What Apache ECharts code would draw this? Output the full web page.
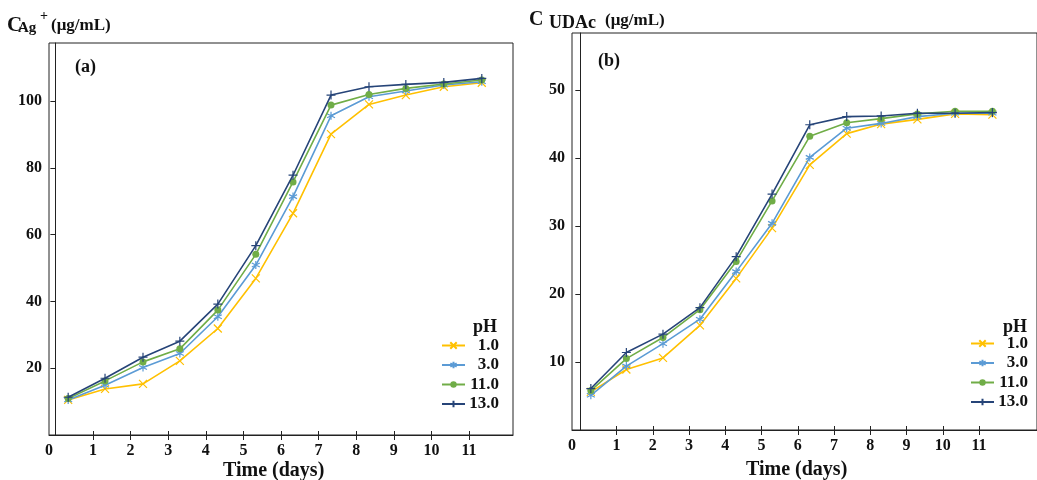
<!DOCTYPE html>
<html>
<head>
<meta charset="utf-8">
<script src="https://cdn.jsdelivr.net/npm/echarts@6/dist/echarts.min.js"></script>
<style>
  html, body { margin: 0; padding: 0; background: #fff; }
  #main { width: 1037px; height: 480px; }
</style>
</head>
<body>
<div id="main"></div>
<script>
// series names (pH)
const phNames = ['1.0', '3.0', '11.0', '13.0'];
const colors = ['#FFC000', '#5B9BD5', '#70AD47', '#264478'];

// sampling times (days)
const daysA = [0.34, 1.32, 2.33, 3.31, 4.32, 5.33, 6.32, 7.33, 8.34, 9.32, 10.33, 11.34];
const daysB = [0.29, 1.27, 2.28, 3.3, 4.3, 5.29, 6.33, 7.35, 8.3, 9.3, 10.34, 11.37];

// (a) C Ag+ (ug/mL)
const agPH1  = [10.5, 13.8, 15.3, 22.2, 31.9, 46.9, 66.4, 90.1, 99.0, 101.8, 104.3, 105.5];
const agPH3  = [10.5, 14.9, 20.2, 24.4, 35.4, 50.9, 71.4, 95.6, 101.3, 103.0, 104.8, 105.8];
const agPH11 = [10.9, 16.2, 21.9, 25.8, 37.4, 54.1, 75.8, 98.8, 102.0, 103.8, 105.1, 106.3];
const agPH13 = [11.3, 17.0, 23.3, 28.1, 39.2, 56.7, 77.8, 101.8, 104.3, 105.0, 105.6, 106.8];

// (b) C UDAc (ug/mL)
const udPH1  = [5.6, 8.9, 10.6, 15.4, 22.3, 29.7, 39.0, 43.6, 45.0, 45.7, 46.5, 46.4];
const udPH3  = [5.1, 9.4, 12.7, 16.3, 23.3, 30.4, 40.1, 44.4, 45.1, 46.1, 46.6, 46.6];
const udPH11 = [5.8, 10.5, 13.6, 17.7, 24.8, 33.7, 43.2, 45.2, 45.8, 46.5, 46.9, 46.9];
const udPH13 = [6.1, 11.4, 14.1, 18.0, 25.5, 34.7, 44.9, 46.1, 46.2, 46.6, 46.6, 46.7];

// tick labels
const xTicks = [1, 2, 3, 4, 5, 6, 7, 8, 9, 10, 11];
const yTicksA = [20, 40, 60, 80, 100];
const yTicksB = [10, 20, 30, 40, 50];

const FONT = '"Liberation Serif", "DejaVu Serif", serif';
const INK = '#111';

// marker shapes: x, asterisk, dot, plus
const symbols = [
  'path://M0,0L10,10M10,0L0,10',
  'path://M5,0L5,10M0.7,2.5L9.3,7.5M9.3,2.5L0.7,7.5',
  'circle',
  'path://M5,0L5,10M0,5L10,5'
];
const symbolSizes = [8, 8, 7, 9];

function pair(xs, ys) {
  const out = [];
  for (let i = 0; i < xs.length; i++) out.push([xs[i], ys[i]]);
  return out;
}

function makeSeries(xIdx, yIdx, xs, sets) {
  return sets.map(function (ys, i) {
    return {
      name: phNames[i],
      type: 'line',
      xAxisIndex: xIdx,
      yAxisIndex: yIdx,
      data: pair(xs, ys),
      symbol: symbols[i],
      symbolSize: symbolSizes[i],
      showAllSymbol: true,
      lineStyle: { color: colors[i], width: 1.6 },
      itemStyle: { color: colors[i], borderColor: colors[i], borderWidth: i === 2 ? 0 : 1.2 },
      emphasis: { disabled: true },
      z: 2 + i
    };
  });
}

// x axis pair: one with labels/outer ticks, one with inner ticks (ticks cross the line)
function xAxes(grid, min, max) {
  return [
    {
      type: 'value', gridIndex: grid, min: min, max: max, position: 'bottom',
      splitLine: { show: false },
      axisLine: { lineStyle: { color: '#222', width: 1 } },
      axisTick: { customValues: xTicks, length: 5, lineStyle: { color: '#222' } },
      axisLabel: {
        customValues: [min].concat(xTicks),
        formatter: function (v) { return v < 0.5 ? '0' : String(Math.round(v)); },
        margin: 8, fontFamily: FONT, fontWeight: 'bold', fontSize: 16, color: INK
      }
    },
    {
      type: 'value', gridIndex: grid, min: min, max: max, position: 'bottom',
      splitLine: { show: false },
      axisLine: { show: false },
      axisLabel: { show: false },
      axisTick: { customValues: xTicks, inside: true, length: 4, lineStyle: { color: '#222' } }
    }
  ];
}

function yAxis(grid, max, ticks) {
  return {
    type: 'value', gridIndex: grid, min: 0, max: max,
    splitLine: { show: false },
    axisLine: { show: true, lineStyle: { color: '#222', width: 1 } },
    axisTick: { show: true, customValues: [0].concat(ticks), length: 5, lineStyle: { color: '#222' } },
    axisLabel: {
      customValues: ticks, margin: 7,
      fontFamily: FONT, fontWeight: 'bold', fontSize: 16, color: INK
    }
  };
}

function legend(left, top) {
  return {
    orient: 'vertical', left: left, top: top, padding: 0,
    data: phNames,
    itemWidth: 23, itemHeight: 8, itemGap: 2.5, itemTextGap: 2,
    selectedMode: false,
    formatter: function (n) { return '{r|' + n + '}'; },
    textStyle: {
      fontFamily: FONT, fontWeight: 'bold', fontSize: 17, color: INK, lineHeight: 17,
      rich: { r: { width: 29, align: 'right', fontFamily: FONT, fontWeight: 'bold', fontSize: 17, color: INK } }
    }
  };
}

function label(text, left, top, size) {
  return {
    type: 'text', left: left, top: top, z: 10,
    style: { text: text, font: 'bold ' + size + 'px ' + FONT, fill: INK }
  };
}

const chart = echarts.init(document.getElementById('main'), null, { renderer: 'canvas' });

const option = {
  animation: false,
  backgroundColor: '#fff',
  grid: [
    { left: 49, top: 43, width: 464, height: 392, show: true, borderColor: '#222', borderWidth: 1 },
    { left: 572, top: 33, width: 490, height: 397, show: true, borderColor: '#222', borderWidth: 1 }
  ],
  xAxis: xAxes(0, -0.17, 12.17).concat(xAxes(1, -0.23, 12.6)),
  yAxis: [yAxis(0, 117.4, yTicksA), yAxis(1, 58.4, yTicksB)],
  legend: [legend(441, 337), legend(970, 335)],
  series: makeSeries(0, 0, daysA, [agPH1, agPH3, agPH11, agPH13])
    .concat(makeSeries(2, 1, daysB, [udPH1, udPH3, udPH11, udPH13])),
  graphic: [
    // y axis titles
    label('C', 7, 15, 21),
    label('Ag', 18, 21, 15),
    label('+', 40, 9, 14),
    label('(μg/mL)', 51, 17, 17),
    label('C', 529, 10, 20),
    label('UDAc', 549, 14, 18),
    label('(μg/mL)', 605, 12, 17),
    // panel tags
    label('(a)', 75, 58, 18),
    label('(b)', 598, 52, 18),
    // legend headers
    label('pH', 473, 318, 18),
    label('pH', 1003, 318, 18),
    // x axis titles
    label('Time (days)', 223, 461, 20),
    label('Time (days)', 746, 460, 20)
  ]
};

chart.setOption(option);
</script>
</body>
</html>
